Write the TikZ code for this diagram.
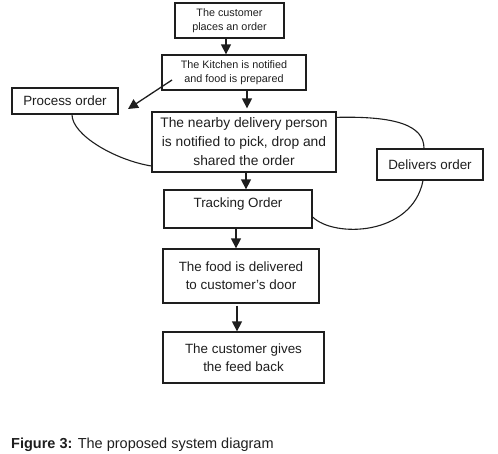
\documentclass[tikz,border=0pt]{standalone}
\usepackage{fontspec}
\setmainfont{Liberation Sans}
\usetikzlibrary{arrows.meta,calc}
\definecolor{ink}{HTML}{1E1E1E}
\tikzset{
  box/.style={draw=ink, line width=1.3pt, rectangle, align=center, inner sep=0pt, text=ink},
  small/.style={font=\fontsize{10.8}{14.5}\selectfont},
  mid/.style={font=\fontsize{13.4}{18}\selectfont},
  big/.style={font=\fontsize{13.8}{19}\selectfont},
  arr/.style={draw=ink, line width=1.3pt, -{Triangle[length=10pt,width=10pt]}},
  curve/.style={draw=ink, line width=1.1pt}
}
\begin{document}
\begin{tikzpicture}[x=1pt,y=-1pt]
\useasboundingbox (0,0) rectangle (498,453);
\node[box,small,minimum width=109pt,minimum height=35pt] (b1) at (229.5,20.5) {The customer\\places an order};
\node[box,small,minimum width=144pt,minimum height=35pt] (b2) at (234,72.5) {The Kitchen is notified\\and food is prepared};
\node[box,mid,minimum width=106pt,minimum height=26pt] (proc) at (65,101) {Process order};
\node[box,big,minimum width=184pt,minimum height=60pt] (b3) at (244,142) {The nearby delivery person\\is notified to pick, drop and\\shared the order};
\node[box,mid,minimum width=106pt,minimum height=31pt] (deliv) at (430,164.5) {Delivers order};
\node[box,mid,minimum width=148pt,minimum height=38pt] (track) at (238,209) {};
\node[text=ink,mid] (tracktxt) at (238,204) {Tracking Order};
\node[box,mid,minimum width=156pt,minimum height=54pt] (food) at (241,276) {The food is delivered\\to customer’s door};
\node[box,mid,minimum width=161pt,minimum height=51pt] (fb) at (243.5,357.5) {The customer gives\\the feed back};
\node[anchor=west,text=ink,font=\fontsize{14.5}{17}\selectfont,inner sep=0pt] (cap) at (11,445) {\textbf{Figure 3:} The proposed system diagram};
\coordinate (d1) at (172,80);
\coordinate (d2) at (128,109);
\draw[arr] ([xshift=-3.5pt]b1.south) -- ([xshift=-3.5pt]b1.south |- b2.north);
\draw[arr] ([xshift=13pt]b2.south) -- ([xshift=13pt,yshift=3pt]b2.south |- b3.north);
\draw[arr] (d1) -- (d2);
\draw[arr] ([xshift=2pt]b3.south) -- ([xshift=2pt]b3.south |- track.north);
\draw[arr] ([xshift=-2pt]track.south) -- ([xshift=-2pt]track.south |- food.north);
\draw[arr] ([xshift=-4pt,yshift=-2pt]food.south) -- ([xshift=-4pt]food.south |- fb.north);
\draw[curve] ([xshift=7pt]proc.south) .. controls (72,135) and (115,160) .. ([yshift=-24pt]b3.west);
\draw[curve] ([yshift=-6pt]b3.north east) .. controls (395,116) and (424,125) .. ([xshift=-6pt]deliv.north);
\draw[curve] ([yshift=-8pt]track.east) .. controls (334,238) and (412,236) .. ([xshift=-7pt]deliv.south);
\end{tikzpicture}
\end{document}
